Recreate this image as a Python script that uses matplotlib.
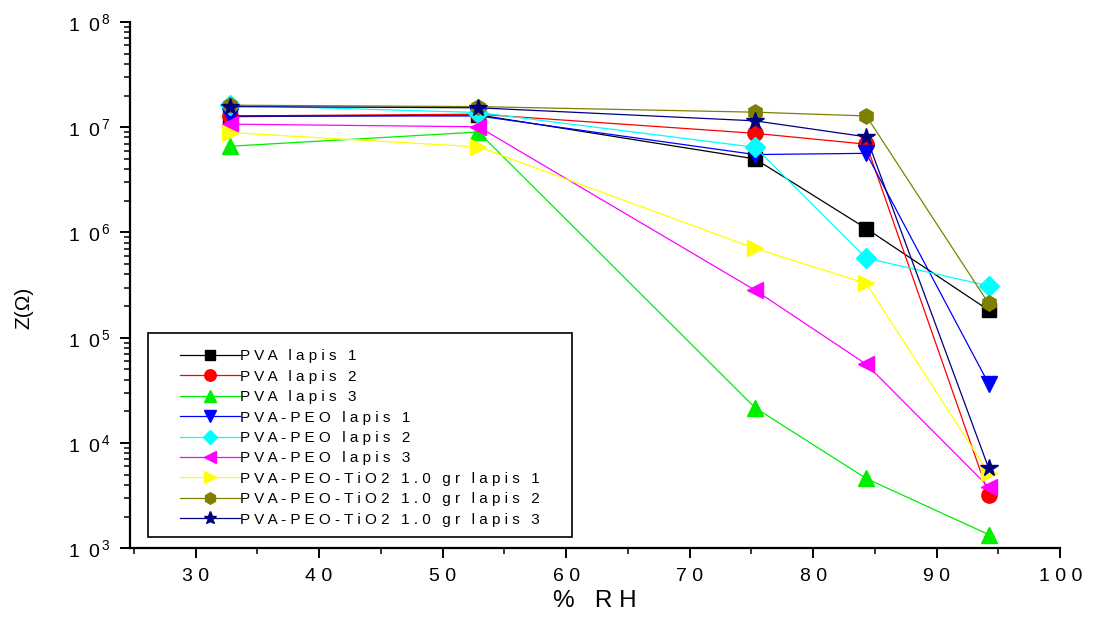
import matplotlib
matplotlib.use("Agg")
import matplotlib.pyplot as plt
from matplotlib.patches import Rectangle
from matplotlib.ticker import FixedLocator, LogLocator, NullFormatter, FixedFormatter

plt.rcParams['font.family'] = ['Liberation Sans', 'DejaVu Sans']
plt.rcParams['mathtext.fontset'] = 'custom'
plt.rcParams['mathtext.rm'] = 'Liberation Sans'

# relative humidity (%) for each measurement
rh = [32.8, 52.9, 75.3, 84.3, 94.2]

# impedance Z (ohm) for each sample
pva_1 = [1.26e7, 1.31e7, 5.0e6, 1.09e6, 1.83e5]
pva_2 = [1.28e7, 1.33e7, 8.75e6, 6.9e6, 3.24e3]
pva_3 = [6.6e6, 9.0e6, 2.16e4, 4.6e3, 1.35e3]
pva_peo_1 = [1.28e7, 1.28e7, 5.5e6, 5.65e6, 3.67e4]
pva_peo_2 = [1.62e7, 1.38e7, 6.45e6, 5.7e5, 3.11e5]
pva_peo_3 = [1.07e7, 1.01e7, 2.83e5, 5.6e4, 3.83e3]
tio2_1 = [8.9e6, 6.5e6, 7.06e5, 3.28e5, 5.2e3]
tio2_2 = [1.62e7, 1.57e7, 1.39e7, 1.28e7, 2.12e5]
tio2_3 = [1.57e7, 1.53e7, 1.15e7, 8.1e6, 5.8e3]

labels = ["PVA lapis 1", "PVA lapis 2", "PVA lapis 3",
          "PVA-PEO lapis 1", "PVA-PEO lapis 2", "PVA-PEO lapis 3",
          "PVA-PEO-TiO2 1.0 gr lapis 1", "PVA-PEO-TiO2 1.0 gr lapis 2",
          "PVA-PEO-TiO2 1.0 gr lapis 3"]
series = [pva_1, pva_2, pva_3, pva_peo_1, pva_peo_2, pva_peo_3,
          tio2_1, tio2_2, tio2_3]
colors = ['black', 'red', '#00ee00', 'blue', 'cyan', 'magenta',
          'yellow', '#808000', '#000080']
markers = ['s', 'o', '^', 'v', 'D', '<', '>', 'h', '*']
msizes = [10, 11, 12, 12, 10, 12, 12, 11, 13]

xticks = [30, 40, 50, 60, 70, 80, 90, 100]


def spaced(s):
    # wide letter spacing like the original plotting program
    return ' '.join(s.replace(' ', '\u2009'))


fig = plt.figure(figsize=(10.93, 6.28), dpi=100)
ax = fig.add_axes([0.119, 0.127, 0.851, 0.838])

for y, lab, c, m, ms in zip(series, labels, colors, markers, msizes):
    ax.plot(rh, y, color=c, marker=m, markersize=ms, linewidth=0.9,
            markeredgecolor=c, label=spaced(lab), zorder=2)

ax.set_yscale('log')
ax.set_ylim(1e3, 1e8)
ax.set_xlim(24.7, 100)

ax.spines['top'].set_visible(False)
ax.spines['right'].set_visible(False)
for s in ['left', 'bottom']:
    ax.spines[s].set_linewidth(1.6)

ax.xaxis.set_major_locator(FixedLocator(xticks))
ax.xaxis.set_major_formatter(FixedFormatter([spaced(str(v)) for v in xticks]))
ax.xaxis.set_minor_locator(FixedLocator([25, 35, 45, 55, 65, 75, 85, 95]))

ax.yaxis.set_major_locator(FixedLocator([1e3, 1e4, 1e5, 1e6, 1e7, 1e8]))
ax.yaxis.set_major_formatter(FixedFormatter(
    [r'$\mathregular{1\ \,0^{\,%d}}$' % e for e in range(3, 9)]))
ax.yaxis.set_minor_locator(LogLocator(base=10, subs=range(2, 10)))
ax.yaxis.set_minor_formatter(NullFormatter())

ax.tick_params(which='major', direction='out', length=7, width=1.4,
               labelsize=14, color='black')
ax.tick_params(which='minor', direction='out', length=4, width=1.1)
ax.tick_params(axis='x', pad=7)
ax.tick_params(axis='y', pad=7)

ax.set_xlabel('%   R H', fontsize=17.5, labelpad=4)
ax.set_ylabel('Z(\u03a9)', fontsize=15)
ax.yaxis.set_label_coords(-0.104, 0.456)

# legend box drawn separately so the entries can sit well inside it
ax.add_patch(Rectangle((0.019, 0.021), 0.456, 0.388, transform=ax.transAxes,
                       facecolor='white', edgecolor='black', linewidth=1.2,
                       zorder=4))
leg = ax.legend(loc='upper left', bbox_to_anchor=(0.0538, 0.378),
                fontsize=11, handlelength=3.9, handletextpad=0.0,
                labelspacing=0.42, borderpad=0, borderaxespad=0,
                frameon=False, markerscale=0.75)
leg.set_zorder(5)

fig.savefig('out.png', dpi=100)
